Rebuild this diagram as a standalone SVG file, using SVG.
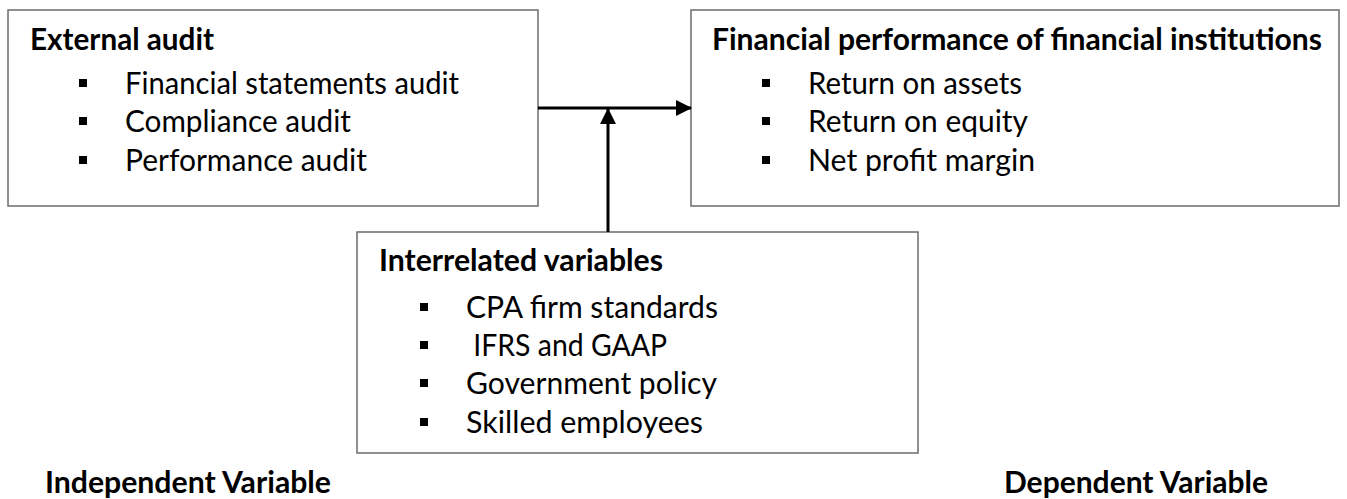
<svg xmlns="http://www.w3.org/2000/svg" width="1347" height="499" viewBox="0 0 1347 499">
<style>
.box{fill:#ffffff;stroke:#6b6b6b;stroke-width:1.5}
.t{font-family:Lato,"Liberation Sans",sans-serif;font-size:31px;fill:#000}
.b{font-weight:bold}
.bul{fill:#000}
.con{stroke:#000;stroke-width:3;fill:none}
</style>
<defs>
<marker id="ah" markerUnits="userSpaceOnUse" markerWidth="16" markerHeight="16" viewBox="0 0 16 16" refX="15" refY="8" orient="auto">
<path d="M0,0 L16,8 L0,16 Z" fill="#000"/>
</marker>
</defs>
<rect width="1347" height="499" fill="#fff"/>
<g id="external-audit">
<rect class="box" x="8" y="10" width="530" height="196"/>
<text class="t b" x="30" y="50" textLength="184" lengthAdjust="spacingAndGlyphs">External audit</text>
<rect class="bul" x="79" y="79" width="8" height="8"/>
<text class="t" x="125" y="94" textLength="334" lengthAdjust="spacingAndGlyphs">Financial statements audit</text>
<rect class="bul" x="79" y="117" width="8" height="8"/>
<text class="t" x="125" y="132" textLength="226" lengthAdjust="spacingAndGlyphs">Compliance audit</text>
<rect class="bul" x="79" y="156" width="8" height="8"/>
<text class="t" x="125" y="171" textLength="242" lengthAdjust="spacingAndGlyphs">Performance audit</text>
</g>
<g id="financial-performance">
<rect class="box" x="691" y="10" width="648" height="196"/>
<text class="t b" x="712" y="50" textLength="610" lengthAdjust="spacingAndGlyphs">Financial performance of financial institutions</text>
<rect class="bul" x="762" y="79" width="8" height="8"/>
<text class="t" x="808" y="94" textLength="214" lengthAdjust="spacingAndGlyphs">Return on assets</text>
<rect class="bul" x="762" y="117" width="8" height="8"/>
<text class="t" x="808" y="132" textLength="220" lengthAdjust="spacingAndGlyphs">Return on equity</text>
<rect class="bul" x="762" y="156" width="8" height="8"/>
<text class="t" x="808" y="171" textLength="227" lengthAdjust="spacingAndGlyphs">Net profit margin</text>
</g>
<g id="interrelated-variables">
<rect class="box" x="357" y="232" width="561" height="221"/>
<text class="t b" x="379" y="271" textLength="284" lengthAdjust="spacingAndGlyphs">Interrelated variables</text>
<rect class="bul" x="420" y="303" width="8" height="8"/>
<text class="t" x="466" y="318" textLength="252" lengthAdjust="spacingAndGlyphs">CPA firm standards</text>
<rect class="bul" x="420" y="341" width="8" height="8"/>
<text class="t" x="466" y="356" textLength="201" lengthAdjust="spacingAndGlyphs" xml:space="preserve"> IFRS and GAAP</text>
<rect class="bul" x="420" y="379" width="8" height="8"/>
<text class="t" x="466" y="394" textLength="251" lengthAdjust="spacingAndGlyphs">Government policy</text>
<rect class="bul" x="420" y="418" width="8" height="8"/>
<text class="t" x="466" y="433" textLength="237" lengthAdjust="spacingAndGlyphs">Skilled employees</text>
</g>
<g id="connectors">
<line class="con" x1="538" y1="108" x2="691" y2="108" marker-end="url(#ah)"/>
<line class="con" x1="608" y1="232" x2="608" y2="109" marker-end="url(#ah)"/>
</g>
<g id="labels">
<text class="t b" x="45" y="493" textLength="286" lengthAdjust="spacingAndGlyphs">Independent Variable</text>
<text class="t b" x="1004" y="493" textLength="264" lengthAdjust="spacingAndGlyphs">Dependent Variable</text>
</g>
</svg>
